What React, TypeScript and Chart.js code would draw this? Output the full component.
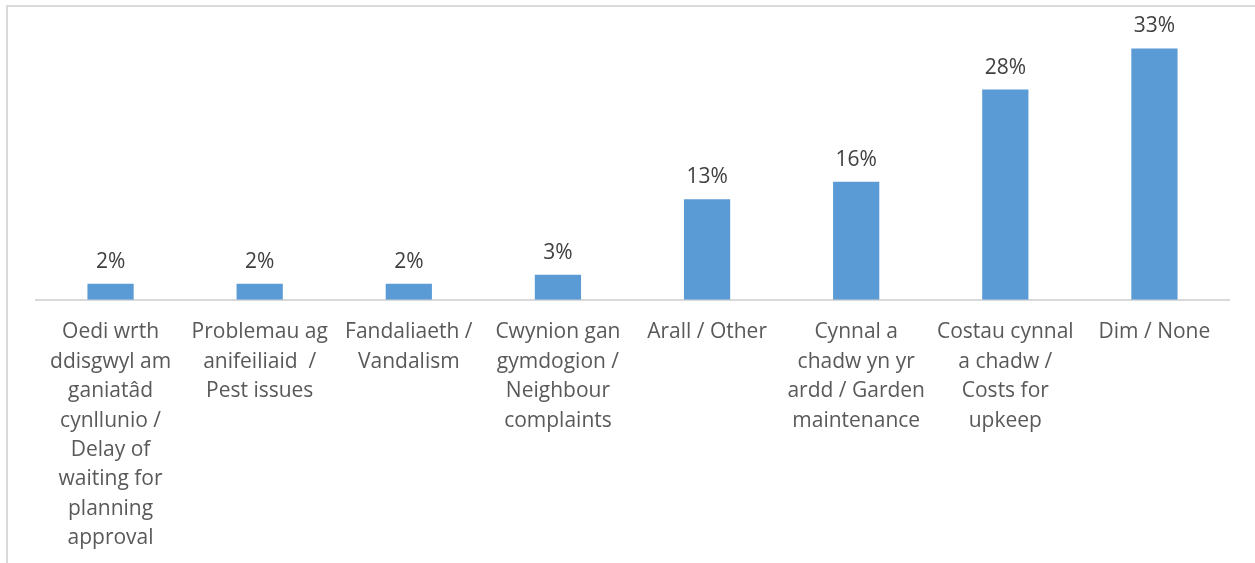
import React, { useEffect, useRef } from "react";
import { Chart, registerables } from "chart.js";

Chart.register(...registerables);

const categories: string[][] = [
  ["Oedi wrth", "ddisgwyl am", "ganiatâd", "cynllunio /", "Delay of", "waiting for", "planning", "approval"],
  ["Problemau ag", "anifeiliaid  /", "Pest issues"],
  ["Fandaliaeth /", "Vandalism"],
  ["Cwynion gan", "gymdogion /", "Neighbour", "complaints"],
  ["Arall / Other"],
  ["Cynnal a", "chadw yn yr", "ardd / Garden", "maintenance"],
  ["Costau cynnal", "a chadw /", "Costs for", "upkeep"],
  ["Dim / None"],
];

const values: number[] = [2.1, 2.1, 2.1, 3.3, 13.2, 15.5, 27.6, 33.0];

const FONT = "'Open Sans'";

const valueLabels = {
  id: "valueLabels",
  afterDatasetsDraw(chart: any) {
    const ctx = chart.ctx;
    const meta = chart.getDatasetMeta(0);
    ctx.save();
    ctx.font = `21px ${FONT}`;
    ctx.fillStyle = "#404040";
    ctx.textAlign = "center";
    ctx.textBaseline = "alphabetic";
    meta.data.forEach((el: any, i: number) => {
      const v = chart.data.datasets[0].data[i] as number;
      ctx.fillText(`${Math.round(v)}%`, el.x, el.y - 16);
    });
    ctx.restore();
  },
};

export default function App() {
  const ref = useRef<HTMLCanvasElement | null>(null);

  useEffect(() => {
    if (!ref.current) return;
    const chart = new Chart(ref.current, {
      type: "bar",
      data: {
        labels: categories,
        datasets: [
          {
            data: values,
            backgroundColor: "#5b9bd5",
            borderWidth: 0,
            categoryPercentage: 1,
            barPercentage: 0.31,
          },
        ],
      },
      options: {
        animation: false,
        responsive: false,
        maintainAspectRatio: false,
        layout: { padding: { left: 36, right: 26, top: 18, bottom: 0 } },
        plugins: {
          legend: { display: false },
          tooltip: { enabled: false },
          title: { display: false },
        },
        scales: {
          x: {
            grid: { display: false, drawTicks: false },
            border: { display: true, color: "#d9d9d9", width: 2 },
            ticks: {
              color: "#595959",
              font: { family: FONT, size: 21, lineHeight: 1.4 },
              padding: 18,
              maxRotation: 0,
              minRotation: 0,
              autoSkip: false,
            },
          },
          y: {
            display: false,
            min: 0,
            max: 37,
          },
        },
      },
      plugins: [valueLabels],
    });
    return () => chart.destroy();
  }, []);

  return (
    <div style={{ position: "fixed", left: 0, top: 0, width: 1255, height: 563, background: "#fff", overflow: "hidden" }}>
      <div
        style={{
          position: "absolute",
          left: 6,
          top: 5,
          width: 1260,
          height: 570,
          borderLeft: "2px solid #d9d9d9",
          borderTop: "2px solid #d9d9d9",
          boxSizing: "border-box",
        }}
      />
      <canvas ref={ref} width={1255} height={571} style={{ position: "absolute", left: 0, top: 0 }} />
    </div>
  );
}
